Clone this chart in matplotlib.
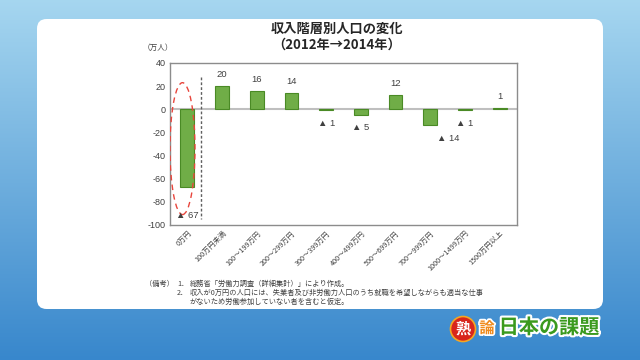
import matplotlib
matplotlib.use('Agg')
import matplotlib.pyplot as plt
import matplotlib.patches as patches
import matplotlib.patheffects as pe
import numpy as np

plt.rcParams['font.family'] = ['Noto Sans CJK JP', 'DejaVu Sans']

# データ（万人）
categories = ['0万円', '100万円未満', '100～199万円', '200～299万円', '300～399万円',
              '400～499万円', '500～699万円', '700～999万円', '1000～1499万円', '1500万円以上']
changes = [-67, 20, 16, 14, -1, -5, 12, -14, -1, 1]
y_ticks = [40, 20, 0, -20, -40, -60, -80, -100]

title = '収入階層別人口の変化\n（2012年→2014年）'
notes = [
    ('（備考）', '1．', '総務省「労働力調査（詳細集計）」により作成。'),
    ('', '2．', '収入が0万円の人口には、失業者及び非労働力人口のうち就職を希望しながらも適当な仕事'),
    ('', '', 'がないため労働参加していない者を含むと仮定。'),
]

W, H = 640, 360
fig = plt.figure(figsize=(6.4, 3.6), dpi=100)

# 背景（青のグラデーション）
bg = fig.add_axes([0, 0, 1, 1])
grad = np.linspace(0, 1, 256).reshape(-1, 1)
top = np.array([0.65, 0.84, 0.94])
bot = np.array([0.22, 0.53, 0.80])
img = top + (bot - top) * grad[:, :, None]
bg.imshow(img, aspect='auto', extent=[0, 1, 0, 1], origin='upper')
bg.set_xlim(0, 1)
bg.set_ylim(0, 1)
bg.axis('off')

# 白いパネル
panel = patches.FancyBboxPatch((37 / W, 1 - 309 / H), (603 - 37) / W, (309 - 19) / H,
                               boxstyle='round,pad=0,rounding_size=0.015',
                               transform=fig.transFigure, facecolor='white',
                               edgecolor='none', mutation_aspect=W / H)
bg.add_patch(panel)

# グラフ本体
ax = fig.add_axes([170 / W, 1 - 225 / H, 347 / W, 162 / H])
x = np.arange(len(categories))
ax.bar(x, changes, width=0.4, color='#70ad47', edgecolor='#4a8a25', linewidth=0.8, zorder=3)
ax.axhline(0, color='#bfbfbf', linewidth=1.5, zorder=2)

ax.set_xlim(-0.5, len(categories) - 0.5)
ax.set_ylim(-100, 40)
ax.set_yticks(y_ticks)
ax.set_yticklabels([str(v) for v in y_ticks], fontsize=6.5, color='#404040',
                   family=['Liberation Sans', 'DejaVu Sans'])
ax.set_xticks(x)
ax.set_xticklabels(categories, rotation=45, ha='right', rotation_mode='anchor',
                   fontsize=5.2, color='#404040')
ax.tick_params(axis='both', length=0, pad=3)
for s in ax.spines.values():
    s.set_color('#8c8c8c')
    s.set_linewidth(1.0)

# 値ラベル（マイナスは▲表記）
lbl_font = ['Liberation Sans', 'Noto Sans CJK JP', 'DejaVu Sans']
for i, v in enumerate(changes):
    if v >= 0:
        ax.annotate(str(v), (i, v), xytext=(0, 5), textcoords='offset points',
                    ha='center', va='bottom', fontsize=6.8, color='#404040', family=lbl_font)
    elif v == -67:
        # 枠の下端付近に置かれている
        ax.text(i, -92, '▲ ' + str(-v), ha='center', va='center', fontsize=6.8,
                color='#404040', family=lbl_font, zorder=6)
    else:
        dx = 13 if v == -14 else 0
        ax.annotate('▲ ' + str(-v), (i, v), xytext=(dx, -6), textcoords='offset points',
                    ha='center', va='top', fontsize=6.8, color='#404040', family=lbl_font)

# 区切り線と強調の楕円
ax.plot([0.4, 0.4], [28, -95], color='#606060', linestyle=(0, (2, 1.5)), linewidth=1.0, zorder=4)
ax.add_patch(patches.Ellipse((-0.14, -34), 0.72, 114, fill=False, edgecolor='#e8453c',
                             linestyle=(0, (4, 3)), linewidth=1.0, zorder=5))

# タイトル・単位
fig.text(337 / W, 1 - 37 / H, title, ha='center', va='center', fontsize=9.5,
         fontweight='bold', color='#262626', linespacing=1.15)
fig.text(158 / W, 1 - 48 / H, '（万人）', ha='center', va='center', fontsize=5.5, color='#404040')

# 備考
for k, (head, num, body) in enumerate(notes):
    yy = 1 - (284 + 9 * k) / H
    if head:
        fig.text(145 / W, yy, head, ha='left', va='center', fontsize=5.2, color='#404040')
    if num:
        fig.text(177 / W, yy, num, ha='left', va='center', fontsize=5.2, color='#404040')
    fig.text(190 / W, yy, body, ha='left', va='center', fontsize=5.2, color='#404040')

# ロゴ
logo_fx = [pe.withStroke(linewidth=2.5, foreground='white')]
bg.add_patch(patches.Ellipse((463 / W, 1 - 329 / H), 25 / W, 25 / H,
                             transform=fig.transFigure, facecolor='#d8261c',
                             edgecolor='#f5a623', linewidth=1.2))
fig.text(463 / W, 1 - 329 / H, '熟', ha='center', va='center', fontsize=11,
         fontweight='bold', color='white')
fig.text(487 / W, 1 - 328 / H, '論', ha='center', va='center', fontsize=11,
         fontweight='bold', color='#f08a1c', path_effects=logo_fx)
fig.text(549 / W, 1 - 327 / H, '日本の課題', ha='center', va='center', fontsize=14.5,
         fontweight='bold', color='#3a9a1e',
         path_effects=[pe.withStroke(linewidth=3, foreground='white')])

fig.savefig('out.png', dpi=100)
